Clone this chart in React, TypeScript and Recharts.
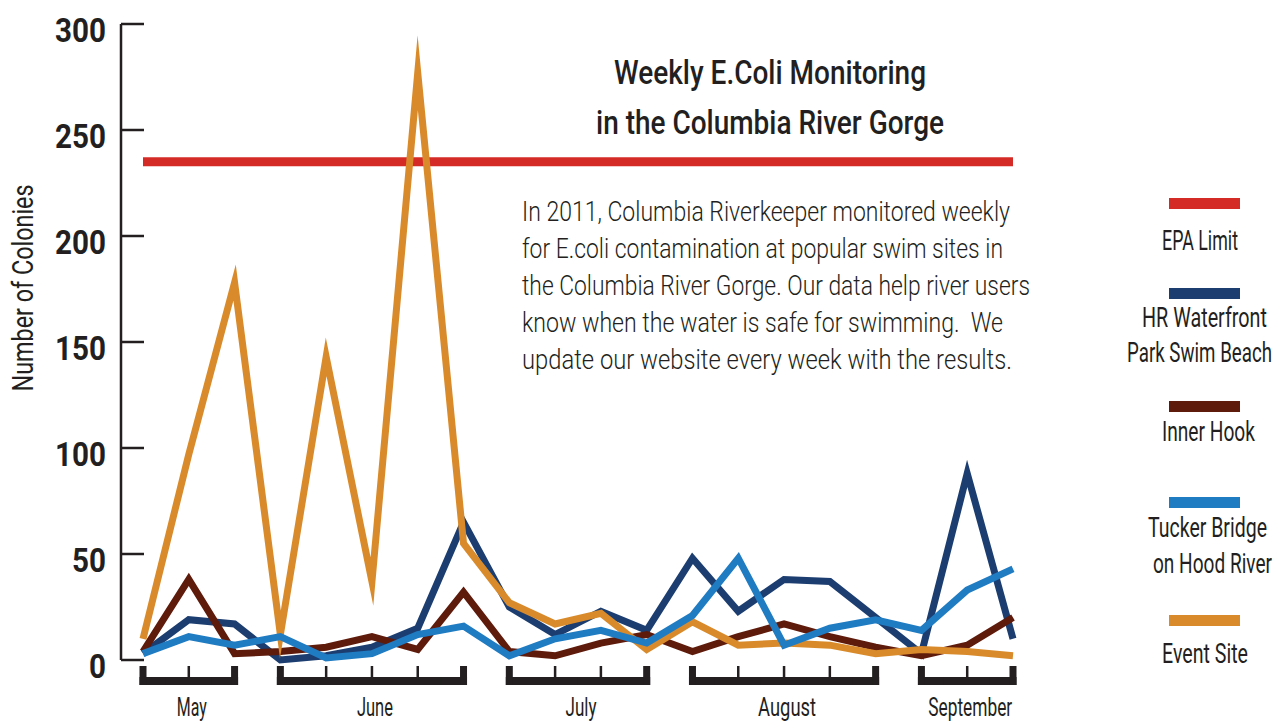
import { LineChart, Line, XAxis, YAxis, ReferenceLine } from 'recharts';

document.body.style.margin = '0';

// weekly samples, May - September 2011
const weeks = [
  'May-1', 'May-2', 'May-3',
  'Jun-1', 'Jun-2', 'Jun-3', 'Jun-4', 'Jun-5',
  'Jul-1', 'Jul-2', 'Jul-3', 'Jul-4',
  'Aug-1', 'Aug-2', 'Aug-3', 'Aug-4', 'Aug-5',
  'Sep-1', 'Sep-2', 'Sep-3',
];
const months = ['May', 'June', 'July', 'August', 'September'];
const weekMonth = [0, 0, 0, 1, 1, 1, 1, 1, 2, 2, 2, 2, 3, 3, 3, 3, 3, 4, 4, 4];

const hrWaterfront = [3, 19, 17, 0, 2, 6, 15, 65, 25, 12, 23, 14, 48, 23, 38, 37, 20, 3, 88, 10];
const innerHook = [4, 38, 3, 4, 6, 11, 5, 32, 4, 2, 8, 12, 4, 11, 17, 11, 6, 2, 7, 20];
const tuckerBridge = [3, 11, 7, 11, 1, 3, 12, 16, 2, 10, 14, 8, 21, 48, 7, 15, 19, 14, 33, 43];
const eventSite = [10, 97, 178, 12, 143, 37, 277, 55, 27, 17, 22, 5, 18, 7, 8, 7, 3, 5, 4, 2];
const epaLimit = 235;

const yTicks = [0, 50, 100, 150, 200, 250, 300];

const legendLabels = [
  ['EPA Limit'],
  ['HR Waterfront', 'Park Swim Beach'],
  ['Inner Hook'],
  ['Tucker Bridge', 'on Hood River'],
  ['Event Site'],
];

const paragraph = [
  'In 2011, Columbia Riverkeeper monitored weekly',
  'for E.coli contamination at popular swim sites in',
  'the Columbia River Gorge. Our data help river users',
  'know when the water is safe for swimming.  We',
  'update our website every week with the results.',
];

const data = weeks.map((week, i) => ({
  week,
  hr: hrWaterfront[i],
  inner: innerHook[i],
  tucker: tuckerBridge[i],
  event: eventSite[i],
}));

const INK = '#231f20';
const FONT = "Roboto, 'Liberation Sans', sans-serif";
const COLORS = {
  epa: '#d52b27',
  hr: '#1b3d70',
  inner: '#5e1a0b',
  tucker: '#1f7bc2',
  event: '#d98b2b',
};
const legendColors = [COLORS.epa, COLORS.hr, COLORS.inner, COLORS.tucker, COLORS.event];

// layout
const FIRST_X = 143;
const LAST_X = 1013;
const STEP = (LAST_X - FIRST_X) / (weeks.length - 1);
const monthLabelWidth = [30, 36, 31, 58, 84];

const legendBarY = [198, 288, 401, 497, 615];
const legendText = [
  [[1162, 250, 76]],
  [[1142, 327, 125], [1127, 362, 145]],
  [[1162, 441, 93]],
  [[1148, 537, 119], [1153, 573, 119]],
  [[1162, 663, 86]],
];
const paraWidths = [488, 481, 508, 481, 490];

// narrow text: small font stretched vertically, then fitted to the width
function NarrowText({ x, y, w, size, weight = 400, anchor = 'start', rotate = 0, squeeze = 0.7, children }: any) {
  const t = `translate(${x} ${y})${rotate ? ` rotate(${rotate})` : ''} scale(1 ${1 / squeeze})`;
  return (
    <text
      transform={t}
      fontSize={size * squeeze}
      fontWeight={weight}
      textAnchor={anchor}
      textLength={w}
      lengthAdjust="spacingAndGlyphs"
      style={{ whiteSpace: 'pre' }}
    >
      {children}
    </text>
  );
}

function YTick(props: any) {
  const { x, y, payload } = props;
  const label = String(payload.value);
  return (
    <g>
      <line x1={x} x2={x + 23} y1={y} y2={y} stroke={INK} strokeWidth={2.5} />
      <text
        x={x - 15}
        y={y + 17.5}
        textAnchor="end"
        fontFamily={FONT}
        fontWeight={700}
        fontSize={34}
        fill={INK}
        textLength={label.length * 17}
        lengthAdjust="spacingAndGlyphs"
      >
        {label}
      </text>
    </g>
  );
}

function MonthBracketTick(props: any) {
  const { x, y, index } = props;
  const m = weekMonth[index];
  const first = index === 0 || weekMonth[index - 1] !== m;
  const last = index === weeks.length - 1 || weekMonth[index + 1] !== m;
  const half = STEP / 2;
  const left = first ? x - 3.5 : x - half - 0.5;
  const right = last ? x + 3.5 : x + half + 0.5;
  const count = weekMonth.filter((v) => v === m).length;
  return (
    <g>
      <rect x={left} y={y + 17} width={right - left} height={8} fill={INK} />
      {first || last ? (
        <rect x={x - 3.5} y={y + 6} width={7} height={19} fill={INK} />
      ) : (
        <rect x={x - 1.25} y={y + 6} width={2.5} height={12} fill={INK} />
      )}
      {first && (
        <text
          x={x + (count - 1) * half + 3}
          y={y + 56}
          textAnchor="middle"
          fontFamily={FONT}
          fontSize={25}
          fill={INK}
          textLength={monthLabelWidth[m]}
          lengthAdjust="spacingAndGlyphs"
        >
          {months[m]}
        </text>
      )}
    </g>
  );
}

export default function App() {
  const lineProps = {
    type: 'linear' as const,
    strokeWidth: 7,
    dot: false,
    activeDot: false,
    isAnimationActive: false,
    strokeLinejoin: 'miter' as const,
    strokeMiterlimit: 20,
  };

  return (
    <div style={{ position: 'relative', width: 1284, height: 727, background: '#fff' }}>
      <LineChart
        width={1284}
        height={727}
        data={data}
        margin={{ top: 24, right: 1284 - LAST_X, bottom: 0, left: 0 }}
      >
        <XAxis
          dataKey="week"
          height={67}
          interval={0}
          axisLine={false}
          tickLine={false}
          tickSize={0}
          tickMargin={0}
          padding={{ left: FIRST_X - 121, right: 0 }}
          tick={<MonthBracketTick />}
        />
        <YAxis
          width={121}
          domain={[0, 300]}
          ticks={yTicks}
          interval={0}
          tickSize={0}
          tickMargin={0}
          tickLine={false}
          axisLine={{ stroke: INK, strokeWidth: 2.5 }}
          tick={<YTick />}
        />
        <ReferenceLine
          segment={[
            { x: weeks[0], y: epaLimit },
            { x: weeks[weeks.length - 1], y: epaLimit },
          ]}
          stroke={COLORS.epa}
          strokeWidth={9}
        />
        <Line dataKey="hr" name="HR Waterfront Park Swim Beach" stroke={COLORS.hr} {...lineProps} />
        <Line dataKey="inner" name="Inner Hook" stroke={COLORS.inner} {...lineProps} />
        <Line dataKey="event" name="Event Site" stroke={COLORS.event} {...lineProps} />
        <Line dataKey="tucker" name="Tucker Bridge on Hood River" stroke={COLORS.tucker} {...lineProps} />
      </LineChart>

      <svg
        width={1284}
        height={727}
        style={{ position: 'absolute', left: 0, top: 0, pointerEvents: 'none' }}
        fontFamily={FONT}
        fill={INK}
      >
        {/* y axis title */}
        <NarrowText x={33} y={288} rotate={-90} anchor="middle" size={29} w={207}>
          Number of Colonies
        </NarrowText>

        {/* chart title */}
        <NarrowText x={770} y={84} anchor="middle" size={34} weight={500} w={312}>
          Weekly E.Coli Monitoring
        </NarrowText>
        <NarrowText x={770} y={134} anchor="middle" size={34} weight={500} w={348}>
          in the Columbia River Gorge
        </NarrowText>

        {/* description */}
        {paragraph.map((line, i) => (
          <NarrowText key={i} x={522} y={221 + i * 37} size={28} weight={300} w={paraWidths[i]} squeeze={0.8}>
            {line}
          </NarrowText>
        ))}

        {/* legend */}
        {legendLabels.map((lines, i) => (
          <g key={i}>
            <rect x={1169} y={legendBarY[i]} width={71} height={11} fill={legendColors[i]} />
            {lines.map((t, j) => {
              const [lx, ly, lw] = legendText[i][j];
              return (
                <NarrowText key={j} x={lx} y={ly} size={28} w={lw}>
                  {t}
                </NarrowText>
              );
            })}
          </g>
        ))}
      </svg>
    </div>
  );
}
